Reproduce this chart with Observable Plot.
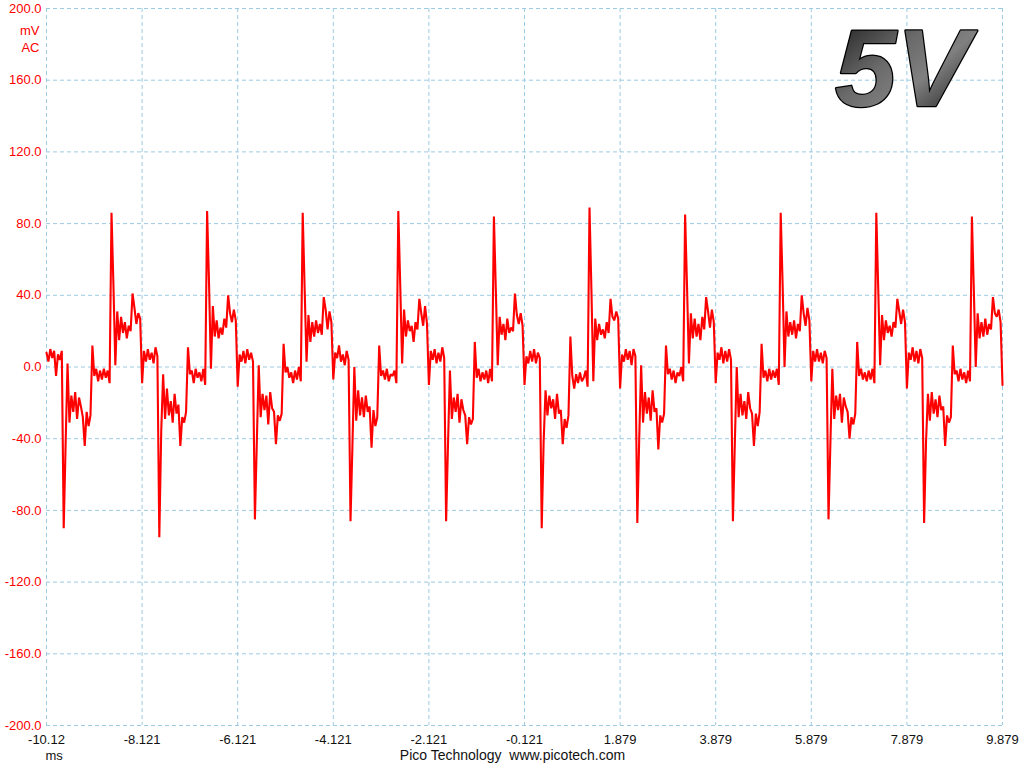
<!DOCTYPE html>
<html>
<head>
<meta charset="utf-8">
<script src="https://cdn.jsdelivr.net/npm/d3@7"></script>
<script src="https://cdn.jsdelivr.net/npm/@observablehq/plot@0.6"></script>
<style>
  body { margin: 0; background: #fff; }
  #chart svg { display: block; }
</style>
</head>
<body>
<div id="chart"></div>
<script>
// scope capture, one sample every 0.04 ms starting at -10.121 ms
const startMs = -10.121
const sampleMs = 0.04

const xTicks = [-10.121, -8.121, -6.121, -4.121, -2.121, -0.121, 1.879, 3.879, 5.879, 7.879, 9.879]
const xTickLabels = ['-10.12', '-8.121', '-6.121', '-4.121', '-2.121', '-0.121', '1.879', '3.879', '5.879', '7.879', '9.879']
const yTicks = [-200, -160, -120, -80, -40, 0, 40, 80, 120, 160, 200]

// mV readings, one array per 2 ms cycle (starting at the negative spike)
const lead = [8, 3, 10, 5, 9, -5, 7, 4, 9]
const cycle1 = [-90,-43,2,-31,-16,-25,-14,-29,-17,-22, -28,-44,-25,-33,-27,12,-5,-1,-8,-2, -7,-1,-6,-2,-9,86,46,1,31,15, 28,19,25,16,23,20,41,33,24,30, 27,-9,9,3,10,4,8,2,11,6]
const cycle2 = [-95,-36,-4,-29,-12,-27,-19,-31,-15,-26, -21,-44,-28,-31,-25,11,-4,-2,-9,-1, -6,-3,-8,-1,-10,87,47,-1,34,17, 26,16,22,18,27,22,40,30,25,32, 26,-11,7,3,9,2,10,4,8,3]
const cycle3 = [-85,-42,1,-28,-15,-24,-16,-32,-14,-23, -25,-43,-27,-30,-26,13,-3,0,-6,-3, -9,-2,-7,0,-8,86,44,3,29,14, 25,17,26,19,24,18,39,32,21,31, 25,-7,8,5,12,3,7,1,9,4]
const cycle4 = [-86,-44,0,-30,-13,-27,-17,-28,-16,-25, -22,-45,-24,-33,-28,12,-5,-2,-7,-1, -8,-4,-5,-2,-9,87,46,2,32,17, 26,20,23,14,25,21,38,30,23,34, 24,-10,9,4,10,2,8,3,11,5]
const cycle5 = [-86,-43,-2,-29,-17,-25,-15,-31,-18,-24, -27,-43,-28,-32,-29,14,-6,-1,-8,-3, -7,-2,-9,-1,-8,84,43,1,28,18, 24,15,27,19,22,20,41,29,24,30, 23,-10,6,2,9,3,10,2,8,5]
const cycle6 = [-90,-42,-13,-27,-16,-23,-18,-29,-15,-26, -24,-43,-29,-34,-27,17,-5,-12,-4,-9, -3,-8,-6,-2,-11,89,43,-8,27,15, 24,18,21,16,25,19,38,28,26,31, 27,-12,7,3,10,4,9,1,10,6]
const cycle7 = [-87,-40,1,-31,-14,-26,-17,-30,-13,-25, -23,-46,-27,-31,-26,12,-4,-1,-7,-2, -9,-3,-5,0,-8,85,45,2,30,16, 27,17,24,15,28,21,39,31,22,32, 25,-9,8,4,11,2,9,3,10,4]
const cycle8 = [-86,-43,0,-28,-15,-27,-19,-29,-14,-23, -26,-44,-26,-33,-25,13,-6,-2,-8,-1, -7,-2,-6,-1,-10,86,46,0,31,17, 25,18,26,16,24,20,40,30,23,33, 26,-8,9,3,10,3,8,2,9,5]
const cycle9 = [-85,-42,-1,-29,-16,-24,-15,-31,-17,-22, -25,-40,-28,-32,-26,14,-5,-1,-7,-3, -8,-2,-7,-1,-9,86,44,1,29,15, 26,19,23,17,25,22,38,31,24,32, 25,-12,8,4,11,3,9,2,10,5]
const cycle10 = [-87,-42,-15,-30,-14,-26,-18,-28,-16,-24, -22,-44,-27,-31,-28,12,-4,-2,-8,-1, -7,-3,-9,-2,-8,84,43,0,30,16, 25,17,27,18,24,21,39,30,28,32, 25,-10]

const mv = [].concat(lead, cycle1, cycle2, cycle3, cycle4, cycle5, cycle6, cycle7, cycle8, cycle9, cycle10)
const samples = mv.map((v, i) => ({t: startMs + i * sampleMs, v: v}))

const gridColor = '#9ccbe3'
const font = 'Liberation Sans, Arial, sans-serif'

const chart = Plot.plot({
  width: 1024,
  height: 768,
  marginLeft: 46,
  marginRight: 22,
  marginTop: 8,
  marginBottom: 43,
  style: {fontFamily: font, fontSize: '13px', background: '#fff', overflow: 'visible'},
  x: {domain: [-10.121, 9.879]},
  y: {domain: [-200, 200]},
  marks: [
    Plot.ruleX(xTicks, {stroke: gridColor, strokeDasharray: '4,3'}),
    Plot.ruleY(yTicks, {stroke: gridColor, strokeDasharray: '4,3'}),
    Plot.axisX(xTicks, {
      tickSize: 0, tickPadding: 9, label: null, color: '#111',
      tickFormat: d => xTickLabels[xTicks.indexOf(d)]
    }),
    Plot.axisY(yTicks, {
      tickSize: 0, tickPadding: 5, label: null, color: 'red',
      tickFormat: d => d.toFixed(1)
    }),
    Plot.text(['mV', 'AC'], {
      frameAnchor: 'top-left', textAnchor: 'end', fill: 'red',
      dx: -6, text: d => d
    }),
    Plot.lineY(samples, {x: 't', y: 'v', stroke: '#f00', strokeWidth: 2.1, strokeLinejoin: 'miter'}),
    Plot.text(['5V'], {
      frameAnchor: 'top-right', textAnchor: 'end', dx: -33, dy: 19,
      fontSize: 110, fontWeight: 'bold', fontStyle: 'italic',
      fill: 'url(#fiveV)', stroke: '#000', strokeWidth: 2.5
    }),
    Plot.text(['ms'], {frameAnchor: 'bottom-left', dx: -1, dy: 34, fill: '#111'}),
    Plot.text(['Pico Technology\u00a0\u00a0www.picotech.com'], {frameAnchor: 'bottom', dx: -12, dy: 34, fontSize: 14, fill: '#111'})
  ]
})

// the mV / AC unit lines under the top label
d3.select(chart).selectAll('text').filter(function () { return this.textContent === 'AC' })
  .attr('transform', 'translate(45,42)')
d3.select(chart).selectAll('text').filter(function () { return this.textContent === 'mV' })
  .attr('transform', 'translate(45,25)')

const grad = d3.select(chart).insert('defs', ':first-child')
  .append('linearGradient').attr('id', 'fiveV')
  .attr('x1', '0').attr('y1', '0').attr('x2', '1').attr('y2', '1')
grad.append('stop').attr('offset', '0%').attr('stop-color', '#111')
grad.append('stop').attr('offset', '40%').attr('stop-color', '#6a6a6a')
grad.append('stop').attr('offset', '60%').attr('stop-color', '#808080')
grad.append('stop').attr('offset', '100%').attr('stop-color', '#000')

d3.select('#chart').append(() => chart)
</script>
</body>
</html>
